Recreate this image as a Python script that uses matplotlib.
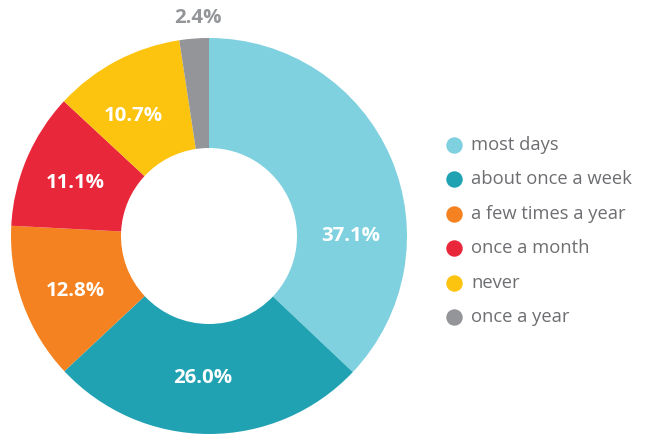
import matplotlib
matplotlib.use("Agg")
import matplotlib.pyplot as plt
import numpy as np

categories = ["most days", "about once a week", "a few times a year",
              "once a month", "never", "once a year"]
values = [37.1, 26.0, 12.8, 11.1, 10.7, 2.4]
colors = ["#7fd1df", "#21a2b3", "#f58220", "#e8283a", "#fcc30f", "#939598"]

# label placement (angle in degrees, radius in px) — positioning only
label_angles = [0, 267.4, 202.5, 158.3, 122.3, 92.9]
label_radii = [142, 142, 145, 144, 142, 218]

plt.rcParams['font.family'] = ['Open Sans', 'DejaVu Sans']

W, H = 645, 436
fig = plt.figure(figsize=(W / 100, H / 100), dpi=100)
ax = fig.add_axes([0, 0, 1, 1])
ax.set_xlim(0, W)
ax.set_ylim(0, H)
ax.set_aspect('equal')
ax.axis('off')

cx, cy = 209, H - 236
R, r_in = 198, 88
wedges, _ = ax.pie(values, colors=colors, startangle=90, counterclock=False,
                   radius=R, center=(cx, cy),
                   wedgeprops=dict(width=R - r_in, linewidth=0))
ax.set_xlim(0, W)
ax.set_ylim(0, H)

for v, ang, rr in zip(values, label_angles, label_radii):
    a = np.deg2rad(ang)
    col = "#939598" if v < 5 else "white"
    ax.text(cx + rr * np.cos(a), cy + rr * np.sin(a), f"{v:.1f}%",
            ha='center', va='center', fontsize=14.7, fontweight='bold', color=col)

# legend
for i, (c, lab) in enumerate(zip(colors, categories)):
    y = H - (145 + i * 34.4)
    ax.scatter([454], [y], s=140, color=c, linewidths=0)
    ax.text(471, y, lab, ha='left', va='center', fontsize=13.2, color="#6d6e71")

fig.savefig("out.png", dpi=100)
